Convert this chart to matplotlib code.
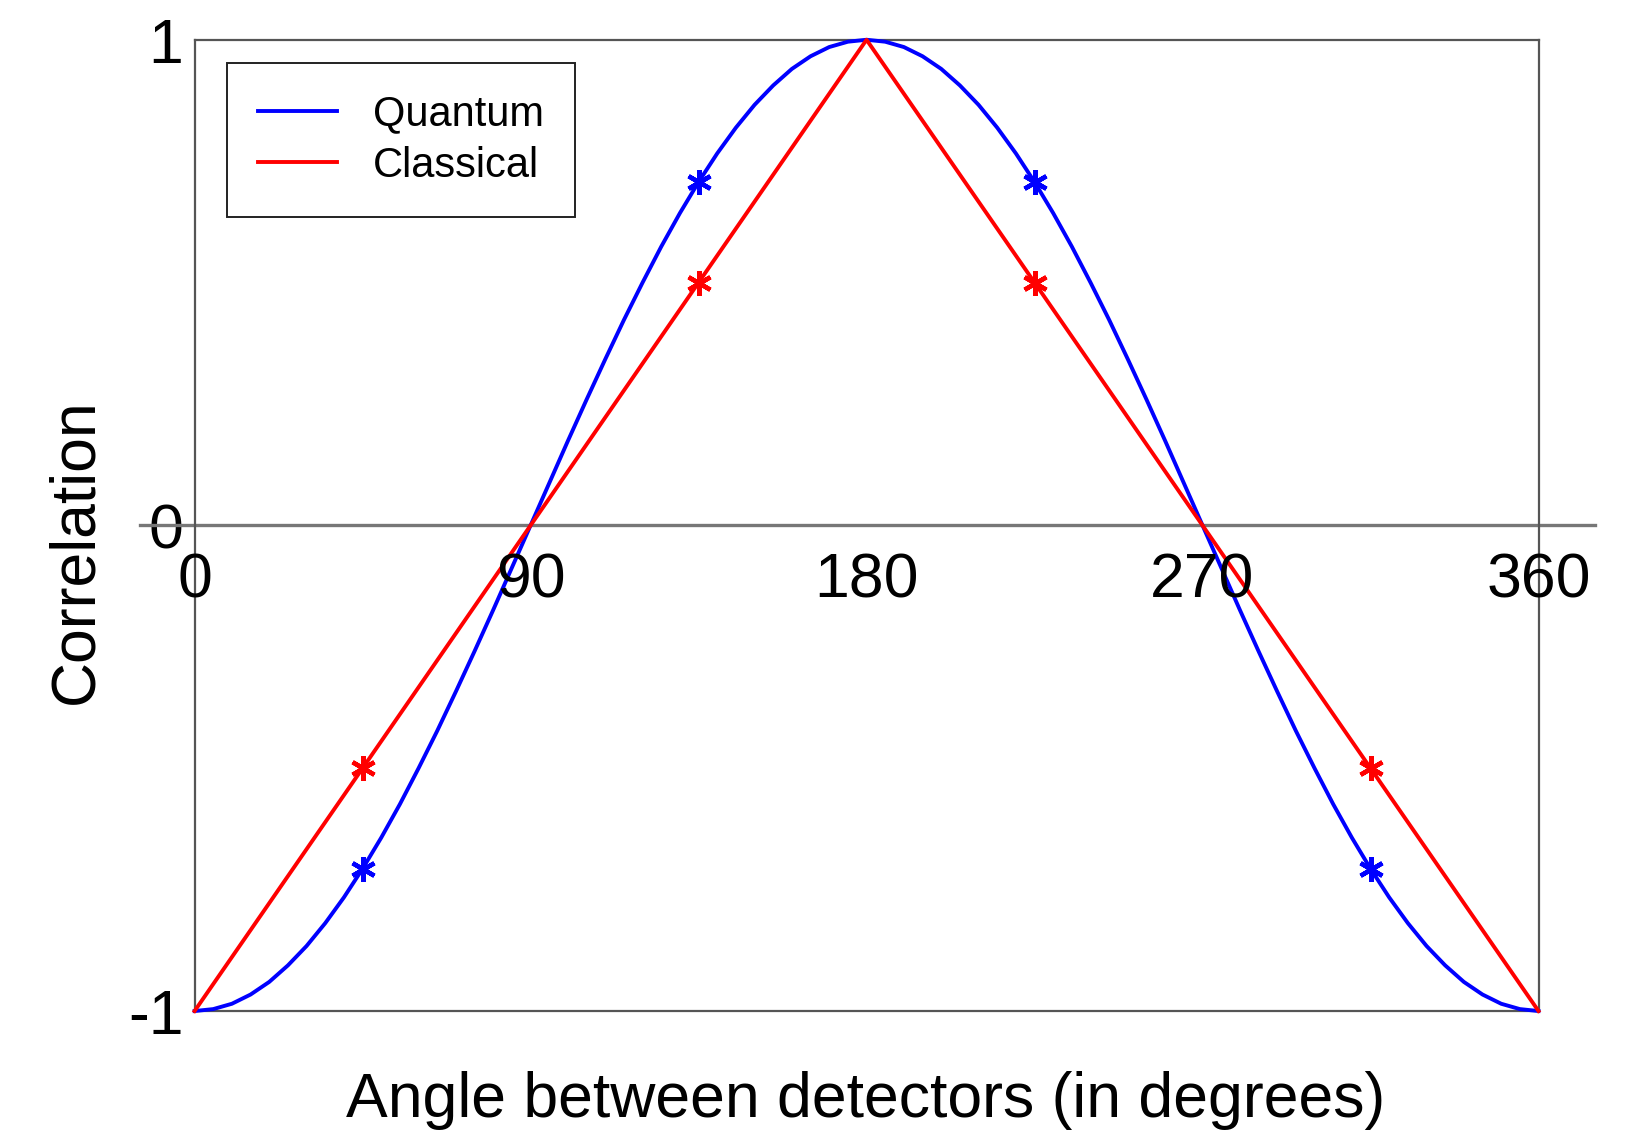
import matplotlib
matplotlib.use("Agg")
import matplotlib.pyplot as plt

plt.rcParams['font.family'] = ['Liberation Sans', 'DejaVu Sans']

# quantum correlation every 5 degrees
quantum_angles = list(range(0, 361, 5))
quantum_vals = [-1.000, -0.996, -0.985, -0.966, -0.940, -0.906, -0.866, -0.819, -0.766,
                -0.707, -0.643, -0.574, -0.500, -0.423, -0.342, -0.259, -0.174, -0.087,
                0.000, 0.087, 0.174, 0.259, 0.342, 0.423, 0.500, 0.574, 0.643,
                0.707, 0.766, 0.819, 0.866, 0.906, 0.940, 0.966, 0.985, 0.996,
                1.000, 0.996, 0.985, 0.966, 0.940, 0.906, 0.866, 0.819, 0.766,
                0.707, 0.643, 0.574, 0.500, 0.423, 0.342, 0.259, 0.174, 0.087,
                0.000, -0.087, -0.174, -0.259, -0.342, -0.423, -0.500, -0.574, -0.643,
                -0.707, -0.766, -0.819, -0.866, -0.906, -0.940, -0.966, -0.985, -0.996,
                -1.000]

classical_angles = [0, 90, 180, 270, 360]
classical_vals = [-1, 0, 1, 0, -1]

# marked points
mark_angles = [45, 135, 225, 315]
mark_quantum = [-0.707, 0.707, 0.707, -0.707]
mark_classical = [-0.5, 0.5, 0.5, -0.5]

xticks = [0, 90, 180, 270, 360]
yticks = [-1, 0, 1]
ytick_labels = ['-1', '0', '1']

fig = plt.figure(figsize=(16.49, 11.36), dpi=100)
ax = fig.add_axes([0.118, 0.110, 0.815, 0.855])

ax.plot(quantum_angles, quantum_vals, color='#0000ff', lw=2.8, label='Quantum',
        clip_on=False, zorder=3, solid_joinstyle='round')
ax.plot(classical_angles, classical_vals, color='#ff0000', lw=2.8, label='Classical',
        clip_on=False, zorder=3)
ax.plot(mark_angles, mark_quantum, ls='none', marker=(6, 2, 0), ms=18, mew=3.2, color='#0000ff', zorder=4)
ax.plot(mark_angles, mark_classical, ls='none', marker=(6, 2, 0), ms=18, mew=3.2, color='#ff0000', zorder=4)

ax.set_xlim(0, 360)
ax.set_ylim(-1, 1)

# zero line sticking out past both sides
ax.plot([-14.6, 375], [0, 0], color='#777777', lw=2.4, clip_on=False, zorder=2)

ax.set_xticks([])
ax.set_yticks(yticks)
ax.set_yticklabels(ytick_labels, fontsize=45)
ax.tick_params(axis='y', length=0, pad=8)

for x in xticks:
    ax.annotate(str(x), (x, 0), xytext=(0, -19), textcoords='offset points',
                ha='center', va='top', fontsize=45, zorder=5)

for s in ax.spines.values():
    s.set_color('#555555')
    s.set_linewidth(1.6)

leg = ax.legend(loc='upper left', bbox_to_anchor=(0.024, 0.976), fontsize=30,
                fancybox=False, edgecolor='#222222', framealpha=1,
                handlelength=1.9, handletextpad=0.85, labelspacing=0.28,
                borderpad=0.75, borderaxespad=0)
leg.get_frame().set_linewidth(1.4)

fig.text(866 / 1649, 1 - 1101 / 1136, 'Angle between detectors (in degrees)',
         ha='center', va='center', fontsize=45)
fig.text(76 / 1649, 1 - 551 / 1136, 'Correlation', rotation=90,
         ha='center', va='center', fontsize=45)

fig.savefig('out.png', dpi=100)
